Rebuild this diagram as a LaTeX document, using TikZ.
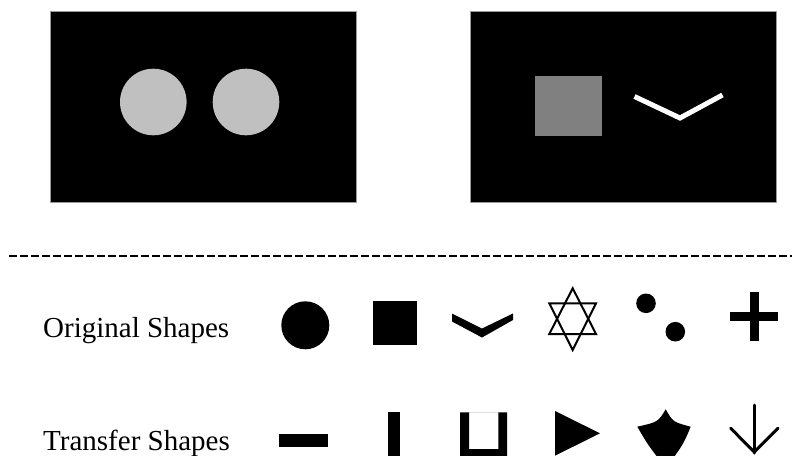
\documentclass[tikz,border=0pt]{standalone}
\usepackage{fontspec}
\setmainfont{Liberation Serif}
\definecolor{PanelEdge}{HTML}{9A9A9A}
\definecolor{DiscGray}{HTML}{C0C0C0}
\definecolor{SquareGray}{HTML}{808080}

\begin{document}
\begin{tikzpicture}[x=1pt,y=-1pt,line cap=round,line join=round]
  \useasboundingbox (0,0) rectangle (792,455);
  \clip (0,0) rectangle (792,455);

  % the two stimulus panels
  \coordinate (L1) at (50,11);
  \coordinate (L2) at (356,202);
  \coordinate (R1) at (470,11);
  \coordinate (R2) at (776,202);
  \filldraw[draw=PanelEdge,line width=.8pt] (L1) rectangle (L2);
  \filldraw[draw=PanelEdge,line width=.8pt] (R1) rectangle (R2);
  \fill[DiscGray] (153.3,102) circle (33.3) (246,102) circle (33.3);
  \fill[SquareGray] (535,76) rectangle (602,136);
  \draw[white,line width=5pt,line cap=butt,line join=miter] (634.5,96.5) -- (680,118) -- (722.5,95);

  % separator
  \draw[line width=2.8pt,line cap=butt,dash pattern=on 8pt off 3pt] (9,256) -- (792,256);

  % labels
  \node[anchor=base west,inner sep=0pt,font=\fontsize{29}{34}\selectfont] (orig) at (43,337) {Original Shapes};
  \node[anchor=base west,inner sep=0pt,font=\fontsize{29}{34}\selectfont] (trans) at (43,450.5) {Transfer Shapes};

  % original shapes
  \fill (305.3,325.3) circle (24);
  \fill (373,301) rectangle (417,345);
  \fill (452,313.5) -- (482,328.5) -- (513,313.5) -- (513,320) -- (482,337.5) -- (452,321.5) -- cycle;
  \draw[line width=2pt,line join=miter] (572.7,288.3) -- (596,334) -- (549.3,334) -- cycle;
  \draw[line width=2pt,line join=miter] (572.7,350) -- (596,303.3) -- (549.3,303.3) -- cycle;
  \fill (646,303.3) circle (9.8) (675.3,331.7) circle (9.8);
  \fill (749.7,291.7) rectangle (759,340.7);
  \fill (730,311.5) rectangle (777.7,320.8);

  % transfer shapes
  \fill (279.3,434) rectangle (327.7,446.7);
  \fill (387.7,411.7) rectangle (400,460);
  \fill[even odd rule] (460,412.3) rectangle (507,458) (469,412.3) rectangle (498.3,449);
  \fill (555,411) -- (600,433.3) -- (555,455.7) -- cycle;
  \fill (665.7,409.3) .. controls (658,422) .. (637.3,426.7)
    .. controls (648,445) .. (665.7,468)
    .. controls (683,445) .. (690.7,426.7)
    .. controls (673,422) .. cycle;
  \draw[line width=3pt] (754.3,405) -- (754.3,453);
  \draw[line width=3pt] (730.7,428.3) -- (754.3,452) -- (778,428.3);
\end{tikzpicture}
\end{document}
